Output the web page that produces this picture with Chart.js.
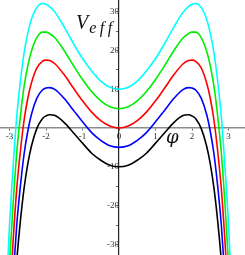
<!DOCTYPE html>
<html>
<head>
<meta charset="utf-8">
<script src="https://cdn.jsdelivr.net/npm/chart.js@4.4.1/dist/chart.umd.min.js"></script>
<style>
  html, body { margin: 0; padding: 0; background: #fff; }
  #wrap { position: relative; width: 245px; height: 255px; }
  #chart { display: block; }
  .lbl { position: absolute; font-family: "Liberation Serif", "DejaVu Serif", serif; font-style: italic; color: #111; white-space: nowrap; }
  #vlabel { left: 76px; top: 12px; font-size: 20px; line-height: 20px; }
  #vlabel span { font-size: 16px; letter-spacing: 3.5px; position: relative; top: 4px; margin-left: 1px; }
  #philabel { left: 166px; top: 127px; font-family: "DejaVu Serif", serif; font-size: 18px; line-height: 19px; }
</style>
</head>
<body>
<div id="wrap">
  <canvas id="chart" width="245" height="255"></canvas>
  <div class="lbl" id="vlabel">V<span>eff</span></div>
  <div class="lbl" id="philabel">φ</div>
</div>
<script>
// sample points along the phi axis
const phi = [-3.1, -3.0, -2.9, -2.8, -2.7, -2.6, -2.5, -2.4, -2.25, -2.1, -2.0, -1.9, -1.75, -1.5, -1.25, -1.0, -0.75, -0.5, -0.25,
  0, 0.25, 0.5, 0.75, 1.0, 1.25, 1.5, 1.75, 1.9, 2.0, 2.1, 2.25, 2.4, 2.5, 2.6, 2.7, 2.8, 2.9, 3.0, 3.1];

// V_eff curves
const vBlack = [-86.6, -64.9, -48.3, -34.1, -23.8, -15.5, -9.3, -4.7, -0.1, 2.4, 3.1, 3.4, 3.2, 1.4, -1.2, -3.9, -6.5, -8.3, -9.6,
  -10, -9.6, -8.3, -6.5, -3.9, -1.2, 1.4, 3.2, 3.4, 3.1, 2.4, -0.1, -4.7, -9.3, -15.5, -23.8, -34.1, -48.3, -64.9, -86.6];
const vBlue = [-76.3, -55.0, -38.6, -24.8, -14.8, -6.7, -0.9, 3.5, 7.7, 9.8, 10.3, 10.4, 9.9, 7.6, 4.6, 1.6, -1.2, -3.2, -4.6,
  -5, -4.6, -3.2, -1.2, 1.6, 4.6, 7.6, 9.9, 10.4, 10.3, 9.8, 7.7, 3.5, -0.9, -6.7, -14.8, -24.8, -38.6, -55.0, -76.3];
const vRed = [-66.0, -45.0, -29.0, -15.5, -5.8, 2.0, 7.6, 11.6, 15.5, 17.2, 17.5, 17.4, 16.5, 13.7, 10.3, 7.0, 4.1, 1.9, 0.5,
  0, 0.5, 1.9, 4.1, 7.0, 10.3, 13.7, 16.5, 17.4, 17.5, 17.2, 15.5, 11.6, 7.6, 2.0, -5.8, -15.5, -29.0, -45.0, -66.0];
const vGreen = [-55.7, -35.1, -19.4, -6.2, 3.2, 10.7, 16.0, 19.8, 23.3, 24.7, 24.7, 24.3, 23.2, 19.9, 16.1, 12.5, 9.4, 7.0, 5.5,
  5, 5.5, 7.0, 9.4, 12.5, 16.1, 19.9, 23.2, 24.3, 24.7, 24.7, 23.3, 19.8, 16.0, 10.7, 3.2, -6.2, -19.4, -35.1, -55.7];
const vCyan = [-45.4, -25.1, -9.8, 3.1, 12.2, 19.4, 24.4, 28.0, 31.1, 32.1, 31.9, 31.3, 29.8, 26.0, 21.8, 17.9, 14.7, 12.1, 10.5,
  10, 10.5, 12.1, 14.7, 17.9, 21.8, 26.0, 29.8, 31.3, 31.9, 32.1, 31.1, 28.0, 24.4, 19.4, 12.2, 3.1, -9.8, -25.1, -45.4];

// tick values and labels
const xTicks = [-3, -2, -1, 0, 1, 2, 3];
const xTickLabels = ["-3", "-2", "-1", "0", "1", "2", "3"];
const yTicks = [-30, -25, -20, -15, -10, -5, 0, 5, 10, 15, 20, 25, 30];
const yTickLabels = ["-30", "", "-20", "", "-10", "", "", "", "10", "", "20", "", "30"];

const series = [
  { values: vCyan, color: "#00ffff" },
  { values: vGreen, color: "#00ee00" },
  { values: vRed, color: "#ff0000" },
  { values: vBlue, color: "#0000ff" },
  { values: vBlack, color: "#000000" }
];

const tickFont = { family: "'Liberation Serif', 'DejaVu Serif', serif", size: 9 };

// axes cross in the middle, so no room is kept for end labels
const noPadding = scale => {
  scale.paddingTop = 0;
  scale.paddingBottom = 0;
  scale.paddingLeft = 0;
  scale.paddingRight = 0;
};

new Chart(document.getElementById("chart").getContext("2d"), {
  type: "line",
  data: {
    datasets: series.map(s => ({
      data: phi.map((p, i) => ({ x: p, y: s.values[i] })),
      borderColor: s.color,
      borderWidth: 1.6,
      pointRadius: 0,
      fill: false,
      cubicInterpolationMode: "monotone"
    }))
  },
  options: {
    responsive: false,
    animation: false,
    layout: { padding: 0 },
    plugins: { legend: { display: false }, tooltip: { enabled: false } },
    scales: {
      x: {
        type: "linear",
        position: { y: 0 },
        min: -3.26,
        max: 3.45,
        afterBuildTicks: scale => { scale.ticks = xTicks.map(v => ({ value: v })); },
        afterFit: noPadding,
        ticks: {
          autoSkip: false,
          maxRotation: 0,
          padding: 1,
          color: "#333",
          font: tickFont,
          callback: (v) => xTickLabels[xTicks.indexOf(v)]
        },
        grid: { drawOnChartArea: false, drawTicks: true, tickLength: 2, color: "#666" },
        border: { display: true, color: "#8c8c8c", width: 1.5 }
      },
      y: {
        type: "linear",
        position: { x: 0 },
        min: -32.73,
        max: 32.99,
        afterBuildTicks: scale => { scale.ticks = yTicks.map(v => ({ value: v })); },
        afterFit: noPadding,
        ticks: {
          autoSkip: false,
          padding: 1,
          color: "#333",
          font: tickFont,
          callback: (v) => yTickLabels[yTicks.indexOf(v)]
        },
        grid: { drawOnChartArea: false, drawTicks: true, tickLength: 2, color: "#666" },
        border: { display: true, color: "#222", width: 1.2 }
      }
    }
  }
});
</script>
</body>
</html>
